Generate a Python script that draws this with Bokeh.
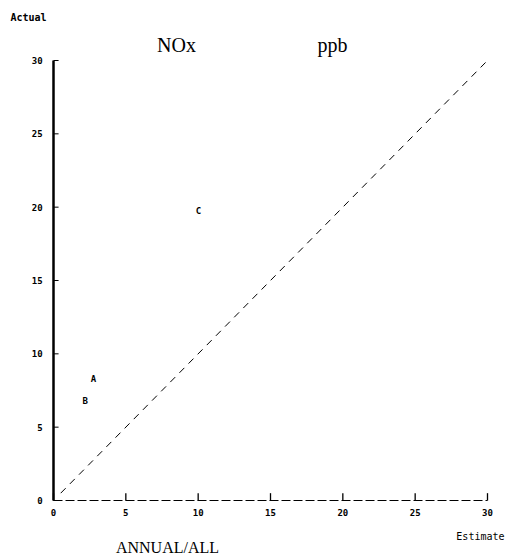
from bokeh.plotting import figure
from bokeh.models import Range1d, ColumnDataSource
from bokeh.core.properties import value
from bokeh.embed import file_html
from bokeh.resources import INLINE

# data
labels = ["A", "B", "C"]
estimate = [2.76, 2.2, 10.02]
actual = [8.3, 6.8, 19.77]
diag_x = [0.5, 30]
diag_y = [0.5, 30]
ticks = [0, 5, 10, 15, 20, 25, 30]
tick_labels = ["0", "5", "10", "15", "20", "25", "30"]

W, H = 505, 556
PX_X = 434 / 30.0
PX_Y = 440 / 30.0
p = figure(width=W, height=H, output_backend="svg", toolbar_location=None,
           x_range=Range1d(-53 / PX_X, (W - 53) / PX_X),
           y_range=Range1d(-(H - 500) / PX_Y, 500 / PX_Y),
           x_axis_location=None, y_axis_location=None,
           min_border=0, min_border_left=0, min_border_right=0,
           min_border_top=0, min_border_bottom=0)
p.outline_line_color = None
p.xgrid.visible = False
p.ygrid.visible = False
p.background_fill_color = "white"

mono = value("DejaVu Sans Mono")
zeros = [0] * len(ticks)

# axes lines
p.line([0, 0], [0, 30], line_color="black", line_width=2.5)
p.line([0, 30], [0, 0], line_color="black", line_width=1, line_dash="9 3")
# tick marks (inward)
p.segment(x0=zeros, y0=ticks, x1=[0.35] * len(ticks), y1=ticks, line_color="black", line_width=1)
p.segment(x0=ticks, y0=zeros, x1=ticks, y1=[0.5] * len(ticks), line_color="black", line_width=1.3)
# tick labels
p.text(x=[-0.75] * len(ticks), y=ticks, text=tick_labels, text_font=mono, text_font_style="bold",
       text_font_size="9px", text_align="right", text_baseline="middle", text_color="black")
p.text(x=ticks, y=[-0.82] * len(ticks), text=tick_labels, text_font=mono, text_font_style="bold",
       text_font_size="9px", text_align="center", text_baseline="middle", text_color="black")

# diagonal
p.line(diag_x, diag_y, line_color="black", line_dash="7 6", line_width=1)

src = ColumnDataSource(dict(x=estimate, y=actual, t=labels))
p.text(x="x", y="y", text="t", source=src, text_font=mono, text_font_style="bold",
       text_font_size="9px", text_align="center", text_baseline="middle", text_color="black")

# titles / axis names
p.text(x=[(176 - 53) / PX_X], y=[(500 - 44) / PX_Y], text=["NOx"], text_font=value("Liberation Serif"),
       text_font_size="20px", text_align="center", text_baseline="middle", text_color="black")
p.text(x=[(332 - 53) / PX_X], y=[(500 - 44) / PX_Y], text=["ppb"], text_font=value("Liberation Serif"),
       text_font_size="20px", text_align="center", text_baseline="middle", text_color="black")
p.text(x=[(10 - 53) / PX_X], y=[(500 - 17) / PX_Y], text=["Actual"], text_font=mono, text_font_size="10px",
       text_font_style="bold", text_align="left", text_baseline="middle", text_color="black")
p.text(x=[(504 - 53) / PX_X], y=[(500 - 536) / PX_Y], text=["Estimate"], text_font=mono,
       text_font_size="10px", text_align="right", text_baseline="middle", text_color="black")
p.text(x=[(167 - 53) / PX_X], y=[(500 - 547) / PX_Y], text=["ANNUAL/ALL"], text_font=value("Liberation Serif"),
       text_font_size="16px", text_align="center", text_baseline="middle", text_color="black")

open("out.html", "w").write(file_html(p, INLINE))
